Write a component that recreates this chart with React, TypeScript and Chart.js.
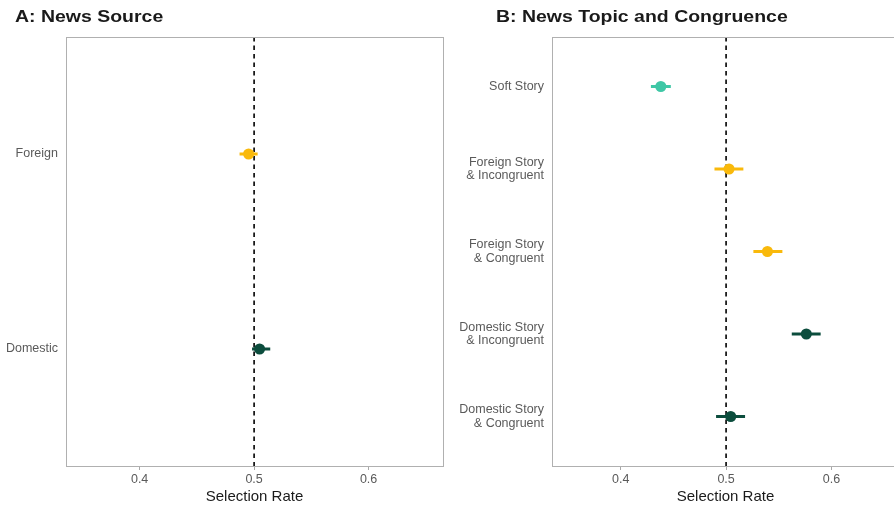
import React, { useEffect, useRef } from "react";
import { Chart, registerables } from "chart.js";

Chart.register(...registerables);

// ---------- Data ----------
const titleA = "A: News Source";
const categoriesA = ["Foreign", "Domestic"];
const estimatesA = [0.4952, 0.5048];
const lowerA = [0.4873, 0.4982];
const upperA = [0.5031, 0.5141];
const colorsA = ["#F9B90B", "#0C4D3D"];

const titleB = "B: News Topic and Congruence";
const categoriesB = [
  ["Soft Story"],
  ["Foreign Story", "& Incongruent"],
  ["Foreign Story", "& Congruent"],
  ["Domestic Story", "& Incongruent"],
  ["Domestic Story", "& Congruent"],
];
const estimatesB = [0.4381, 0.5028, 0.5392, 0.5761, 0.5044];
const lowerB = [0.4287, 0.489, 0.5259, 0.5623, 0.4905];
const upperB = [0.4476, 0.5164, 0.5534, 0.5897, 0.518];
const colorsB = ["#3FC7A6", "#F9B90B", "#F9B90B", "#0C4D3D", "#0C4D3D"];

const xTicks = [0.4, 0.5, 0.6];
const xTickLabels = ["0.4", "0.5", "0.6"];
const referenceValue = 0.5;
const xAxisTitle = "Selection Rate";

const FONT = "'Liberation Sans', Arial, Helvetica, sans-serif";

type PanelProps = {
  title: string;
  categories: (string | string[])[];
  estimates: number[];
  lower: number[];
  upper: number[];
  colors: string[];
  width: number;
  height: number;
  left: number;
  yAxisWidth: number;
  padRight: number;
  xMin: number;
  xMax: number;
  titleX: number;
};

function Panel(p: PanelProps) {
  const ref = useRef<HTMLCanvasElement | null>(null);
  useEffect(() => {
    if (!ref.current) return;
    const n = p.categories.length;
    const overlay = {
      id: "overlay",
      beforeDatasetsDraw(chart: any) {
        const ctx = chart.ctx;
        const xs = chart.scales.x;
        const ys = chart.scales.y;
        const ca = chart.chartArea;
        ctx.save();
        // reference dashed line
        const rx = xs.getPixelForValue(referenceValue);
        ctx.strokeStyle = "#000000";
        ctx.lineWidth = 1.6;
        ctx.setLineDash([4.5, 4]);
        ctx.beginPath();
        ctx.moveTo(rx, ca.top);
        ctx.lineTo(rx, ca.bottom);
        ctx.stroke();
        ctx.setLineDash([]);
        // error bars
        p.estimates.forEach((_, i) => {
          const y = ys.getPixelForValue(i + 1);
          ctx.strokeStyle = p.colors[i];
          ctx.lineWidth = 3;
          ctx.beginPath();
          ctx.moveTo(xs.getPixelForValue(p.lower[i]), y);
          ctx.lineTo(xs.getPixelForValue(p.upper[i]), y);
          ctx.stroke();
        });
        ctx.restore();
      },
      afterDraw(chart: any) {
        const ctx = chart.ctx;
        const ca = chart.chartArea;
        ctx.save();
        ctx.strokeStyle = "#B0B0B0";
        ctx.lineWidth = 1;
        ctx.strokeRect(
          Math.round(ca.left) + 0.5,
          Math.round(ca.top) + 0.5,
          Math.round(ca.right - ca.left),
          Math.round(ca.bottom - ca.top)
        );
        ctx.fillStyle = "#1a1a1a";
        ctx.font = `bold 16.5px ${FONT}`;
        ctx.textAlign = "left";
        ctx.textBaseline = "alphabetic";
        ctx.translate(p.titleX, 22);
        ctx.scale(1.18, 1);
        ctx.fillText(p.title, 0, 0);
        ctx.restore();
      },
    };

    const chart = new Chart(ref.current, {
      type: "scatter",
      data: {
        datasets: [
          {
            data: p.estimates.map((v, i) => ({ x: v, y: i + 1 })),
            backgroundColor: p.colors,
            borderWidth: 0,
            pointRadius: 5.5,
            pointHoverRadius: 5.5,
          },
        ],
      },
      options: {
        responsive: false,
        animation: false,
        events: [],
        layout: { padding: { top: 37, right: p.padRight, left: 0, bottom: 0 } },
        plugins: {
          legend: { display: false },
          tooltip: { enabled: false },
          title: { display: false },
        },
        scales: {
          x: {
            type: "linear",
            min: p.xMin,
            max: p.xMax,
            afterBuildTicks: (s: any) => {
              s.ticks = xTicks.map((v) => ({ value: v }));
            },
            afterFit: (s: any) => {
              s.height = 42;
            },
            ticks: {
              callback: (v: any) => {
                const idx = xTicks.findIndex((t) => Math.abs(t - Number(v)) < 1e-9);
                return idx >= 0 ? xTickLabels[idx] : "";
              },
              color: "#5a5a5a",
              font: { family: FONT, size: 12.5 },
              padding: 2,
              maxRotation: 0,
            },
            grid: {
              display: true,
              drawOnChartArea: false,
              drawTicks: true,
              tickLength: 4,
              color: "#A8A8A8",
              lineWidth: 1,
            },
            border: { display: false },
            title: {
              display: true,
              text: xAxisTitle,
              color: "#1a1a1a",
              font: { family: FONT, size: 15 },
              padding: { top: 0, bottom: 2 },
            },
          },
          y: {
            type: "linear",
            reverse: true,
            min: 0.4,
            max: n + 0.6,
            afterBuildTicks: (s: any) => {
              s.ticks = p.categories.map((_, i) => ({ value: i + 1 }));
            },
            afterFit: (s: any) => {
              s.width = p.yAxisWidth;
            },
            ticks: {
              callback: (v: any) => p.categories[Math.round(Number(v)) - 1] as any,
              color: "#5a5a5a",
              font: { family: FONT, size: 12.5, lineHeight: 1.07 },
              padding: 8,
            },
            grid: { display: false, drawTicks: false },
            border: { display: false },
          },
        },
      },
      plugins: [overlay],
    } as any);
    return () => chart.destroy();
  }, []);
  return (
    <canvas
      ref={ref}
      width={p.width}
      height={p.height}
      style={{ position: "absolute", left: p.left, top: 0, width: p.width, height: p.height }}
    />
  );
}

export default function App() {
  return (
    <div
      style={{
        position: "fixed",
        left: 0,
        top: 0,
        width: 894,
        height: 508,
        overflow: "hidden",
        background: "#ffffff",
      }}
    >
      <Panel
        title={titleA}
        categories={categoriesA}
        estimates={estimatesA}
        lower={lowerA}
        upper={upperA}
        colors={colorsA}
        width={450}
        height={508}
        left={0}
        yAxisWidth={66}
        padRight={7}
        xMin={0.3357}
        xMax={0.665}
        titleX={15}
      />
      <Panel
        title={titleB}
        categories={categoriesB}
        estimates={estimatesB}
        lower={lowerB}
        upper={upperB}
        colors={colorsB}
        width={470}
        height={508}
        left={440}
        yAxisWidth={112}
        padRight={11}
        xMin={0.3349}
        xMax={0.664}
        titleX={56}
      />
    </div>
  );
}
